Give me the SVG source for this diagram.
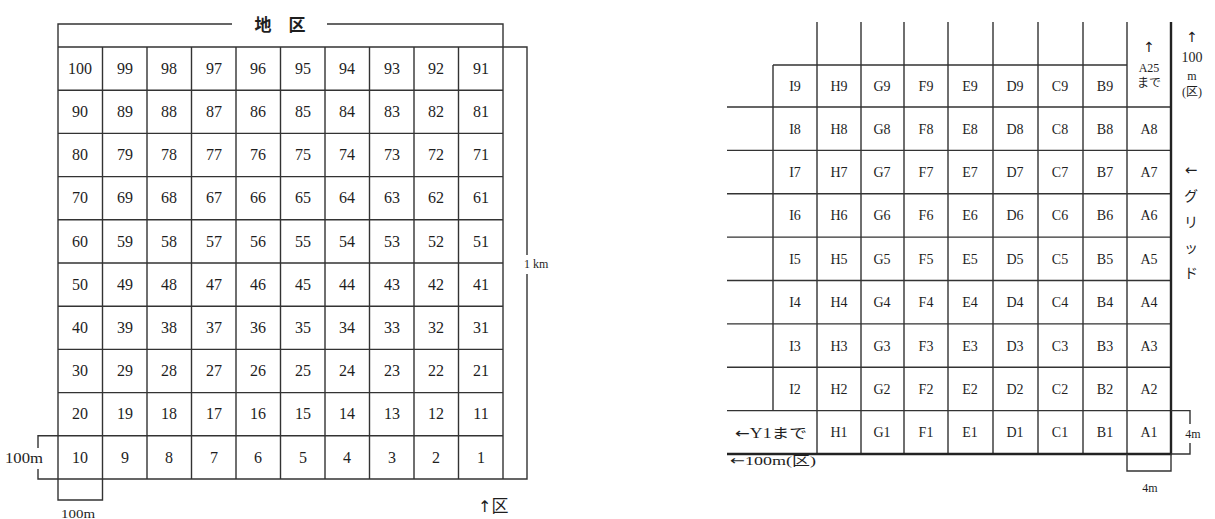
<svg xmlns="http://www.w3.org/2000/svg" width="1215" height="519" viewBox="0 0 1215 519">
<style>
text{font-family:"Liberation Serif","Noto Sans CJK JP",serif;fill:#1e1e1e}
.n{font-size:16px;text-anchor:middle}
.r{font-size:14px;text-anchor:middle}
.c{text-anchor:middle}
.ar{font-family:"DejaVu Sans",sans-serif}
.ln{fill:none;stroke:#333;stroke-width:1.4}
.th{fill:none;stroke:#222;stroke-width:2.4}
</style>
<rect width="1215" height="519" fill="#fff"/>

<g id="left-grid">
<path class="ln" d="M58,47V479M102.5,47V479M147,47V479M191.5,47V479M236,47V479M280.5,47V479M325,47V479M369.5,47V479M414,47V479M458.5,47V479M503,47V479"/>
<path class="ln" d="M58,47H503M58,90.2H503M58,133.4H503M58,176.6H503M58,219.8H503M58,263H503M58,306.2H503M58,349.4H503M58,392.6H503M58,435.8H503M58,479H503"/>
</g>

<g id="left-dimensions">
<path class="ln" d="M58,47V24H232M327,24H503V47"/>
<path class="ln" d="M503,47H527V255M527,274V479H503"/>
<path class="ln" d="M58,435.8H38V448M38,469V479H58"/>
<path class="ln" d="M58,479V500H102.5V479"/>
<text x="280" y="31" class="c" font-size="17" font-weight="bold" font-family="Noto Sans CJK JP,sans-serif">地　区</text>
<text x="524" y="268" font-size="12">1 km</text>
<text x="5" y="463" font-size="14" textLength="38" lengthAdjust="spacingAndGlyphs">100m</text>
<text x="61" y="518" font-size="13" textLength="34" lengthAdjust="spacingAndGlyphs">100m</text>
<text x="478" y="512" font-size="17"><tspan class="ar" font-size="16">↑</tspan>区</text>
</g>

<g id="left-cells">
<g transform="translate(0,74)"><text x="80" class="n">100</text><text x="125" class="n">99</text><text x="169" class="n">98</text><text x="214" class="n">97</text><text x="258" class="n">96</text><text x="303" class="n">95</text><text x="347" class="n">94</text><text x="392" class="n">93</text><text x="436" class="n">92</text><text x="481" class="n">91</text></g>
<g transform="translate(0,117)"><text x="80" class="n">90</text><text x="125" class="n">89</text><text x="169" class="n">88</text><text x="214" class="n">87</text><text x="258" class="n">86</text><text x="303" class="n">85</text><text x="347" class="n">84</text><text x="392" class="n">83</text><text x="436" class="n">82</text><text x="481" class="n">81</text></g>
<g transform="translate(0,160)"><text x="80" class="n">80</text><text x="125" class="n">79</text><text x="169" class="n">78</text><text x="214" class="n">77</text><text x="258" class="n">76</text><text x="303" class="n">75</text><text x="347" class="n">74</text><text x="392" class="n">73</text><text x="436" class="n">72</text><text x="481" class="n">71</text></g>
<g transform="translate(0,203)"><text x="80" class="n">70</text><text x="125" class="n">69</text><text x="169" class="n">68</text><text x="214" class="n">67</text><text x="258" class="n">66</text><text x="303" class="n">65</text><text x="347" class="n">64</text><text x="392" class="n">63</text><text x="436" class="n">62</text><text x="481" class="n">61</text></g>
<g transform="translate(0,247)"><text x="80" class="n">60</text><text x="125" class="n">59</text><text x="169" class="n">58</text><text x="214" class="n">57</text><text x="258" class="n">56</text><text x="303" class="n">55</text><text x="347" class="n">54</text><text x="392" class="n">53</text><text x="436" class="n">52</text><text x="481" class="n">51</text></g>
<g transform="translate(0,290)"><text x="80" class="n">50</text><text x="125" class="n">49</text><text x="169" class="n">48</text><text x="214" class="n">47</text><text x="258" class="n">46</text><text x="303" class="n">45</text><text x="347" class="n">44</text><text x="392" class="n">43</text><text x="436" class="n">42</text><text x="481" class="n">41</text></g>
<g transform="translate(0,333)"><text x="80" class="n">40</text><text x="125" class="n">39</text><text x="169" class="n">38</text><text x="214" class="n">37</text><text x="258" class="n">36</text><text x="303" class="n">35</text><text x="347" class="n">34</text><text x="392" class="n">33</text><text x="436" class="n">32</text><text x="481" class="n">31</text></g>
<g transform="translate(0,376)"><text x="80" class="n">30</text><text x="125" class="n">29</text><text x="169" class="n">28</text><text x="214" class="n">27</text><text x="258" class="n">26</text><text x="303" class="n">25</text><text x="347" class="n">24</text><text x="392" class="n">23</text><text x="436" class="n">22</text><text x="481" class="n">21</text></g>
<g transform="translate(0,419)"><text x="80" class="n">20</text><text x="125" class="n">19</text><text x="169" class="n">18</text><text x="214" class="n">17</text><text x="258" class="n">16</text><text x="303" class="n">15</text><text x="347" class="n">14</text><text x="392" class="n">13</text><text x="436" class="n">12</text><text x="481" class="n">11</text></g>
<g transform="translate(0,463)"><text x="80" class="n">10</text><text x="125" class="n">9</text><text x="169" class="n">8</text><text x="214" class="n">7</text><text x="258" class="n">6</text><text x="303" class="n">5</text><text x="347" class="n">4</text><text x="392" class="n">3</text><text x="436" class="n">2</text><text x="481" class="n">1</text></g>
</g>

<g id="right-grid">
<path class="ln" d="M817,22V454M861,22V454M904,22V454M948,22V454M993,22V454M1038,22V454M1083,22V454M1127,22V454M773,65V410.6"/>
<path class="ln" d="M773,65H1127M727,107H1171M727,150.4H1171M727,193.8H1171M727,237.1H1171M727,280.5H1171M727,323.9H1171M727,367.3H1171M727,410.6H1171"/>
<path class="th" d="M1171,22V454M727,454H1172"/>
</g>

<g id="right-dimensions">
<path class="ln" d="M1171,410.6H1190V424M1190,443V454H1171"/>
<path class="ln" d="M1127,454V471H1171V454"/>
<text x="1193" y="438" class="c" font-size="12">4m</text>
<text x="1150" y="492" class="c" font-size="12">4m</text>
<text x="1149" y="52" class="c ar" font-size="14">↑</text>
<text x="1149" y="72" class="c" font-size="12">A25</text>
<text x="1149" y="87" class="c" font-size="12">まで</text>
<text x="1192" y="42" class="c ar" font-size="14">↑</text>
<text x="1192" y="62" class="c" font-size="14">100</text>
<text x="1192" y="80" class="c" font-size="12">m</text>
<text x="1192" y="96" class="c" font-size="12">(区)</text>
<text x="1191" y="175" class="c ar" font-size="15">←</text>
<text x="1191" y="201" class="c" font-size="14">グ</text>
<text x="1191" y="227" class="c" font-size="14">リ</text>
<text x="1191" y="253" class="c" font-size="14">ッ</text>
<text x="1191" y="278" class="c" font-size="14">ド</text>
<text x="735" y="438" font-size="14" textLength="72" lengthAdjust="spacingAndGlyphs"><tspan class="ar">←</tspan>Y1まで</text>
<text x="730" y="465" font-size="13" textLength="86" lengthAdjust="spacingAndGlyphs"><tspan class="ar">←</tspan>100m(区)</text>
</g>

<g id="right-cells">
<g transform="translate(0,91)"><text x="795" class="r">I9</text><text x="839" class="r">H9</text><text x="882" class="r">G9</text><text x="926" class="r">F9</text><text x="970" class="r">E9</text><text x="1015" class="r">D9</text><text x="1060" class="r">C9</text><text x="1105" class="r">B9</text></g>
<g transform="translate(0,134)"><text x="795" class="r">I8</text><text x="839" class="r">H8</text><text x="882" class="r">G8</text><text x="926" class="r">F8</text><text x="970" class="r">E8</text><text x="1015" class="r">D8</text><text x="1060" class="r">C8</text><text x="1105" class="r">B8</text><text x="1149" class="r">A8</text></g>
<g transform="translate(0,177)"><text x="795" class="r">I7</text><text x="839" class="r">H7</text><text x="882" class="r">G7</text><text x="926" class="r">F7</text><text x="970" class="r">E7</text><text x="1015" class="r">D7</text><text x="1060" class="r">C7</text><text x="1105" class="r">B7</text><text x="1149" class="r">A7</text></g>
<g transform="translate(0,220)"><text x="795" class="r">I6</text><text x="839" class="r">H6</text><text x="882" class="r">G6</text><text x="926" class="r">F6</text><text x="970" class="r">E6</text><text x="1015" class="r">D6</text><text x="1060" class="r">C6</text><text x="1105" class="r">B6</text><text x="1149" class="r">A6</text></g>
<g transform="translate(0,264)"><text x="795" class="r">I5</text><text x="839" class="r">H5</text><text x="882" class="r">G5</text><text x="926" class="r">F5</text><text x="970" class="r">E5</text><text x="1015" class="r">D5</text><text x="1060" class="r">C5</text><text x="1105" class="r">B5</text><text x="1149" class="r">A5</text></g>
<g transform="translate(0,307)"><text x="795" class="r">I4</text><text x="839" class="r">H4</text><text x="882" class="r">G4</text><text x="926" class="r">F4</text><text x="970" class="r">E4</text><text x="1015" class="r">D4</text><text x="1060" class="r">C4</text><text x="1105" class="r">B4</text><text x="1149" class="r">A4</text></g>
<g transform="translate(0,351)"><text x="795" class="r">I3</text><text x="839" class="r">H3</text><text x="882" class="r">G3</text><text x="926" class="r">F3</text><text x="970" class="r">E3</text><text x="1015" class="r">D3</text><text x="1060" class="r">C3</text><text x="1105" class="r">B3</text><text x="1149" class="r">A3</text></g>
<g transform="translate(0,394)"><text x="795" class="r">I2</text><text x="839" class="r">H2</text><text x="882" class="r">G2</text><text x="926" class="r">F2</text><text x="970" class="r">E2</text><text x="1015" class="r">D2</text><text x="1060" class="r">C2</text><text x="1105" class="r">B2</text><text x="1149" class="r">A2</text></g>
<g transform="translate(0,437)"><text x="839" class="r">H1</text><text x="882" class="r">G1</text><text x="926" class="r">F1</text><text x="970" class="r">E1</text><text x="1015" class="r">D1</text><text x="1060" class="r">C1</text><text x="1105" class="r">B1</text><text x="1149" class="r">A1</text></g>
</g>
</svg>
